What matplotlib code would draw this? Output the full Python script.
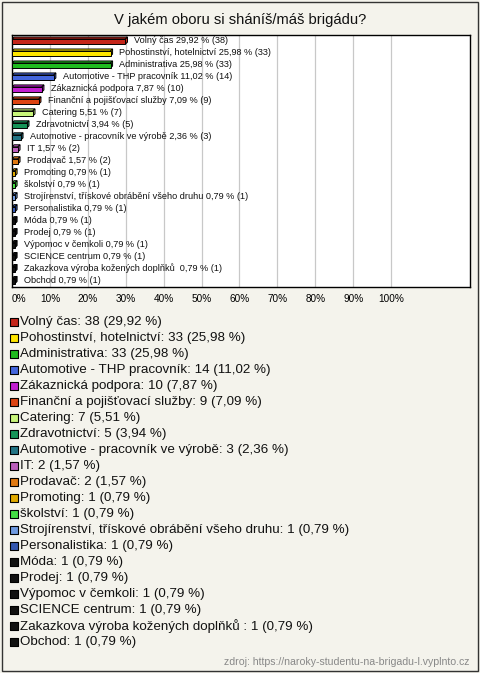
import matplotlib.pyplot as plt
import numpy as np
from matplotlib.patches import Polygon, Rectangle

categories = [
    "Volný čas", "Pohostinství, hotelnictví", "Administrativa",
    "Automotive - THP pracovník", "Zákaznická podpora",
    "Finanční a pojišťovací služby", "Catering", "Zdravotnictví",
    "Automotive - pracovník ve výrobě", "IT", "Prodavač", "Promoting",
    "školství", "Strojírenství, třískové obrábění všeho druhu",
    "Personalistika", "Móda", "Prodej", "Výpomoc v čemkoli",
    "SCIENCE centrum", "Zakazkova výroba kožených doplňků ", "Obchod",
]
counts = [38, 33, 33, 14, 10, 9, 7, 5, 3, 2, 2, 1, 1, 1, 1, 1, 1, 1, 1, 1, 1]
percents = [29.92, 25.98, 25.98, 11.02, 7.87, 7.09, 5.51, 3.94, 2.36, 1.57,
            1.57, 0.79, 0.79, 0.79, 0.79, 0.79, 0.79, 0.79, 0.79, 0.79, 0.79]
colors = ["#c4261a", "#ffe600", "#1fbb1f", "#4466dd", "#c21fd0", "#dd4412",
          "#c8f57a", "#169458", "#237585", "#bb5fbb", "#e07a12", "#e0aa00",
          "#44dd44", "#6f9ae0", "#3457b0", "#111111", "#111111", "#111111",
          "#111111", "#111111", "#111111"]
xticks = [0, 10, 20, 30, 40, 50, 60, 70, 80, 90, 100]

bg = "#f4f3ec"
font = "Liberation Sans"

fig = plt.figure(figsize=(4.8, 6.73), dpi=100, facecolor=bg)
fig.patches.append(Rectangle((2 / 480, 2 / 673), 476 / 480, 669 / 673,
                             transform=fig.transFigure, fill=False,
                             edgecolor="#333333", linewidth=1))

fig.text(0.5, 1 - 20 / 673, "V jakém oboru si sháníš/máš brigádu?",
         ha="center", va="center", fontsize=10.6, family=font, color="#111111")

ax = fig.add_axes([12 / 480, 1 - 287 / 673, 458 / 480, 252 / 673])
ax.set_facecolor("white")
n = len(categories)
y = np.arange(n)
ax.set_xlim(0, 120.8)
ax.set_ylim(n - 0.5, -0.55)

for t in xticks:
    ax.axvline(t, color="#c8c8c8", linewidth=0.9, zorder=0)

h = 0.42
dx, dy = 0.55, 0.17
for yi, p, c in zip(y, percents, colors):
    x0, x1 = 0, p
    yt, yb = yi - h / 2, yi + h / 2
    top = Polygon([(x0, yt), (x0 + dx, yt - dy), (x1 + dx, yt - dy), (x1, yt)],
                  closed=True, facecolor=c, edgecolor="black", linewidth=0.7, zorder=2)
    side = Polygon([(x1, yt), (x1 + dx, yt - dy), (x1 + dx, yb - dy), (x1, yb)],
                   closed=True, facecolor=c, edgecolor="black", linewidth=0.7, zorder=2)
    ax.add_patch(top)
    ax.add_patch(side)
ax.barh(y, percents, height=h, color=colors, edgecolor="black", linewidth=0.7, zorder=3)

for yi, cat, p, cnt in zip(y, categories, percents, counts):
    ax.text(p + 2.3, yi - 0.05, f"{cat} {p:.2f} % ({cnt})".replace(".", ","),
            va="center", ha="left", fontsize=6.6, family=font, color="#111111", zorder=4)

ax.set_xticks(xticks)
ax.set_xticklabels([f"{t}%" for t in xticks], fontsize=7.2, family=font)
ax.get_xticklabels()[0].set_horizontalalignment("left")
ax.set_yticks([])
ax.tick_params(axis="x", length=0, pad=5)
for s in ax.spines.values():
    s.set_color("black")
    s.set_linewidth(1)

# legend
lax = fig.add_axes([0, 1 - 650 / 673, 1, 336 / 673])
lax.set_xlim(0, 480)
lax.set_ylim(n - 0.5, -0.5)
lax.axis("off")
for yi, cat, p, cnt, c in zip(y, categories, percents, counts, colors):
    lax.scatter([13.5], [yi], marker="s", s=30, facecolor=c, edgecolor="black",
                linewidth=0.8)
    lax.text(20, yi, f"{cat}: {cnt} ({p:.2f} %)".replace(".", ","),
             va="center", ha="left", fontsize=9.6, family=font, color="#111111")

fig.text(470 / 480, 1 - 662 / 673,
         "zdroj: https://naroky-studentu-na-brigadu-l.vyplnto.cz",
         ha="right", va="center", fontsize=7.6, family=font, color="#888888")

fig.savefig("out.png", dpi=100, facecolor=bg)
